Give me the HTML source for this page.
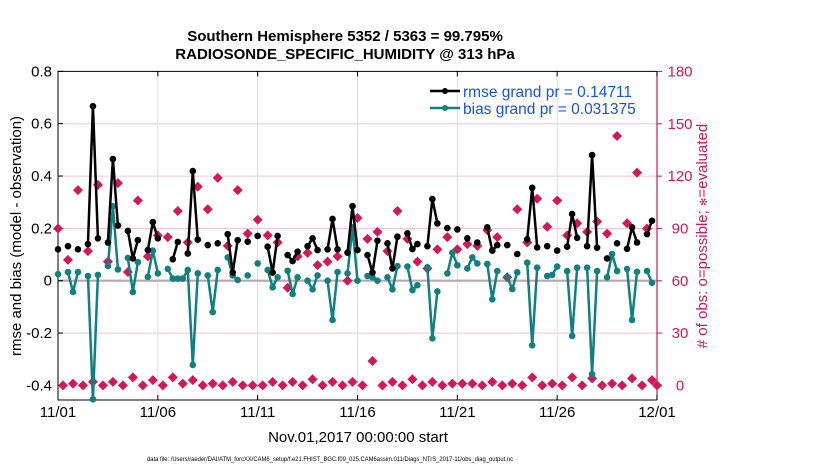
<!DOCTYPE html>
<html><head><meta charset="utf-8"><style>
html,body{margin:0;padding:0;background:#fff}
svg{display:block;font-family:"Liberation Sans",Arial,sans-serif}
</style></head><body>
<svg id="chart" width="830" height="470" viewBox="0 0 830 470" xmlns="http://www.w3.org/2000/svg">
<text x="345" y="41" text-anchor="middle" font-size="15" font-weight="bold">Southern Hemisphere 5352 / 5363 = 99.795%</text>
<text x="345" y="59" text-anchor="middle" font-size="15" font-weight="bold">RADIOSONDE_SPECIFIC_HUMIDITY @ 313 hPa</text>
<g id="grid"></g>
<g id="axes"></g>
<g id="marks"></g>
<g>
<line x1="430" y1="91" x2="460" y2="91" stroke="#000" stroke-width="2.5"/><circle cx="445" cy="91" r="3" fill="#000"/>
<text x="463" y="97" font-size="15.5" fill="#1850f0">rmse grand pr = 0.14711</text>
<line x1="430" y1="108" x2="460" y2="108" stroke="#108080" stroke-width="2.5"/><circle cx="445" cy="108" r="3" fill="#108080"/>
<text x="463" y="114" font-size="15.5" fill="#1850f0">bias grand pr = 0.031375</text>
</g>
<text transform="translate(21,236) rotate(-90)" text-anchor="middle" font-size="15">rmse and bias (model - observation)</text>
<text transform="translate(707,236) rotate(-90)" text-anchor="middle" font-size="15" fill="#d6165a">#  of obs: o=possible; <tspan font-size="10">✻</tspan>=evaluated</text>
<text x="358" y="442" text-anchor="middle" font-size="15">Nov.01,2017 00:00:00 start</text>
<text x="147" y="461" font-size="6.5" textLength="366" lengthAdjust="spacingAndGlyphs">data file: /Users/raeder/DAI/ATM_forcXX/CAM6_setup/f.e21.FHIST_BGC.f09_025.CAM6assim.011/Diags_NTrS_2017-11/obs_diag_output.nc</text>
</svg>
<script>
const n=null;
const xTickLabels=["11/01","11/06","11/11","11/16","11/21","11/26","12/01"];
const yLeftTicks=[0.8,0.6,0.4,0.2,0,-0.2,-0.4];
const yRightTicks=[180,150,120,90,60,30,0];
const rmse=[.120,n,.132,n,.120,n,.140,.667,.162,n,.146,.465,.211,n,.190,.085,.155,n,.117,.224,.162,n,n,.082,.148,n,.104,.419,.157,n,.136,n,.143,n,.178,.031,.155,n,.149,n,
.171,n,.130,.031,.171,n,.098,.075,.111,n,.132,.162,.117,n,.120,.236,.120,n,.107,.285,.117,n,.098,.031,.153,n,.143,.047,.168,n,.181,.121,.140,n,.132,.312,.219,n,.201,n,
.196,n,.162,n,.146,n,.204,.115,.136,n,.136,n,.102,n,.158,.355,.127,n,.132,n,.115,n,.130,.255,.164,n,.132,.480,.126,n,.085,n,.143,n,.122,.204,.146,n,.178,.229,n];
const bias=[.025,n,.033,-.043,.033,n,.018,-.453,.022,n,.056,.285,.043,n,.087,-.043,.071,n,.015,.115,.028,n,.045,.008,.008,.008,.041,-.322,.028,n,.020,-.120,.041,n,.089,.020,.003,n,.020,n,
.066,n,.041,-.025,.013,n,.038,-.051,.013,n,.000,-.033,.020,n,.000,-.150,.033,n,.028,.204,.000,n,.018,.013,.000,n,.013,-.033,.056,n,.054,-.036,-.017,n,.051,-.220,-.041,n,.028,.107,
.059,n,.047,.089,.066,n,.064,-.071,.037,n,.015,-.032,.032,n,.069,-.247,.050,n,.018,.022,.054,n,.037,-.211,.050,n,.050,-.357,.037,n,.013,.102,.037,n,.045,-.150,.034,n,.037,-.008,n];
const obsEvaluated=[90,0,72,1,112,0,77,2,115,0,71,2,116,0,65,4.6,106,0,74,3,86,0,85,4.6,100,1,82,3,114,0,101,1,119,0,80,2,112,0,87,0,
95,0,86,2,82,0,56,2,74,0,76,3.5,69,0,71,2,74,0,60,2,96,0,84,14,88,0,77,2,100,0,84,3.5,71,0,67,2,78,0,85,1,
78,1,81,1,80,0,89,2,85,0,62,1,101,0,82,4.6,107,0,91,1,106,0,86,4.6,93,0,88,4,94,0,87,1,143,0,93,4,122,0,90,3,0];

const X0=58,X1=657,YT=71.4,YB=400;
const xs=i=>X0+(X1-X0)*i/120;
const yL=v=>280.7-v*261.7;
const yR=c=>385.4-c*1.744;
const NS="http://www.w3.org/2000/svg";
function mk(tag,attrs,parent){const e=document.createElementNS(NS,tag);for(const k in attrs)e.setAttribute(k,attrs[k]);parent.appendChild(e);return e;}
const grid=document.getElementById('grid'),axes=document.getElementById('axes'),marks=document.getElementById('marks');
yRightTicks.forEach(c=>{if(c===180||c===0)return;const y=yR(c);const l=mk('line',{x1:X0,x2:X1,y1:y,y2:y,stroke:'#f2c6d6','stroke-width':1},grid);

});
xTickLabels.forEach((t,k)=>{const x=xs(k*20);if(k>0&&k<6){const l=mk('line',{x1:x,x2:x,y1:YT,y2:YB,stroke:'#dcdcdc','stroke-width':1},grid);

}});
const z=mk('line',{x1:X0,x2:X1,y1:yL(0),y2:yL(0),stroke:'#b8a8ae','stroke-width':2.2},grid);


const frame=mk('path',{d:`M${X1},${YT}H${X0}V${YB}H${X1}`,fill:'none',stroke:'#000','stroke-width':1},axes);


const rs=mk('line',{x1:X1,x2:X1,y1:YT,y2:YB,stroke:'#d6165a','stroke-width':1.2},axes);


yLeftTicks.forEach(v=>{const y=yL(v);mk('line',{x1:X0,x2:X0+5,y1:y,y2:y,stroke:'#000'},axes);
const t=mk('text',{x:X0-6,y:y+5,'text-anchor':'end','font-size':15},axes);t.textContent=(v===0?'0':v.toFixed(1));

});
yRightTicks.forEach(c=>{const y=yR(c);mk('line',{x1:X1,x2:X1+5,y1:y,y2:y,stroke:'#d6165a'},axes);
const t=mk('text',{x:680,y:y+5,'text-anchor':'middle','font-size':15,fill:'#d6165a'},axes);t.textContent=c;

});
xTickLabels.forEach((s,k)=>{const x=xs(k*20);mk('line',{x1:x,x2:x,y1:YB,y2:YB-5,stroke:'#000'},axes);mk('line',{x1:x,x2:x,y1:YT,y2:YT+5,stroke:'#000'},axes);
const t=mk('text',{x:x,y:417,'text-anchor':'middle','font-size':15},axes);t.textContent=s;

});
obsEvaluated.forEach((c,i)=>{if(c==null)return;const x=xs(i),y=yR(c),s=5;
const p=mk('polygon',{points:`${x},${y-s} ${x+s},${y} ${x},${y+s} ${x-s},${y}`,fill:'#d6165a'},marks);

});
function series(arr,color,name){let d='';let prev=false;arr.forEach((v,i)=>{if(v==null){prev=false;return;}d+=(prev?'L':'M')+xs(i).toFixed(2)+','+yL(v).toFixed(2);prev=true;});
const p=mk('path',{d:d,fill:'none',stroke:color,'stroke-width':2.5,'stroke-linejoin':'round'},marks);


arr.forEach((v,i)=>{if(v==null)return;const c=mk('circle',{cx:xs(i),cy:yL(v),r:3.3,fill:color},marks);

});}
series(bias,'#108080','bias');
series(rmse,'#000000','rmse');
</script>
</body></html>
